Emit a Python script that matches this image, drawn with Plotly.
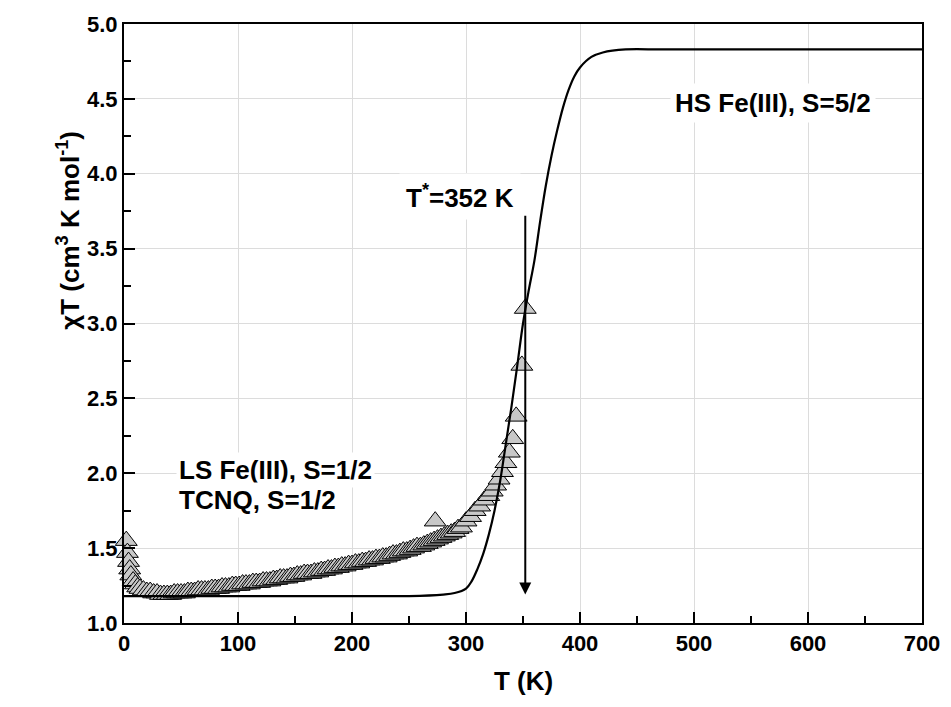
import plotly.graph_objects as go

# measured chiT data (triangles)
temp_data = [2, 3, 4, 5, 6, 8, 10, 12,
             14, 17, 20, 23, 26, 29, 32, 35, 38, 41, 44, 47, 50, 53, 56, 59,
             62, 65, 68, 71, 74, 77, 80, 83, 86, 89, 92, 95, 98, 101, 104, 107,
             110, 113, 116, 119, 122, 125, 128, 131, 134, 137, 140, 143, 146, 149,
             152, 155, 158, 161, 164, 167, 170, 173, 176, 179, 182, 185, 188, 191,
             194, 197, 200, 203, 206, 209, 212, 215, 218, 221, 224, 227, 230, 233,
             236, 239, 242, 245, 248, 251, 254, 257, 260, 263, 266, 269, 272, 273,
             275, 278, 281, 284, 287, 290, 293, 296, 300, 304, 308, 312, 316, 320,
             323, 326, 329, 332, 335, 338, 341, 344, 349, 352]
chit_data = [1.55, 1.47, 1.41, 1.36, 1.32, 1.28, 1.26, 1.24,
             1.23, 1.22, 1.21, 1.21, 1.20, 1.20, 1.19, 1.19, 1.19, 1.19, 1.20, 1.20, 1.20, 1.20, 1.21, 1.21,
             1.21, 1.22, 1.22, 1.22, 1.22, 1.23, 1.23, 1.23, 1.24, 1.24, 1.24, 1.25, 1.25, 1.25, 1.26, 1.26,
             1.26, 1.27, 1.27, 1.27, 1.28, 1.28, 1.28, 1.29, 1.29, 1.30, 1.30, 1.30, 1.31, 1.31,
             1.32, 1.32, 1.33, 1.33, 1.33, 1.34, 1.34, 1.35, 1.35, 1.36, 1.36, 1.37, 1.37, 1.38,
             1.38, 1.39, 1.39, 1.40, 1.40, 1.41, 1.41, 1.42, 1.42, 1.43, 1.43, 1.44, 1.44, 1.45,
             1.46, 1.46, 1.47, 1.48, 1.48, 1.49, 1.50, 1.51, 1.51, 1.52, 1.53, 1.54, 1.55, 1.68,
             1.56, 1.57, 1.58, 1.59, 1.60, 1.61, 1.63, 1.64, 1.68, 1.71, 1.75, 1.78, 1.82, 1.85,
             1.88, 1.92, 1.96, 2.01, 2.07, 2.14, 2.23, 2.38, 2.72, 3.10]

# fitted curve (solid line)
temp_fit = [0, 50, 100, 150, 200, 250, 280, 290, 300, 305, 310, 315, 320, 325, 330,
            335, 340, 345, 350, 355, 360, 365, 370, 375, 380, 385, 390, 395, 400,
            410, 420, 440, 470, 500, 600, 700]
chit_fit = [1.18, 1.18, 1.18, 1.18, 1.18, 1.18, 1.19, 1.20, 1.23, 1.28, 1.36, 1.46, 1.59, 1.75, 1.95,
            2.20, 2.45, 2.72, 3.00, 3.22, 3.42, 3.68, 3.92, 4.12, 4.29, 4.44, 4.56, 4.65, 4.71,
            4.78, 4.81, 4.83, 4.83, 4.83, 4.83, 4.83]

x_ticks = [0, 100, 200, 300, 400, 500, 600, 700]
y_ticks = [1.0, 1.5, 2.0, 2.5, 3.0, 3.5, 4.0, 4.5, 5.0]

FONT = "Arial, Liberation Sans, sans-serif"

fig = go.Figure()

fig.add_trace(go.Scatter(
    x=temp_data, y=chit_data, mode="markers",
    marker=dict(symbol="triangle-up", size=19, color="#c8c8c8",
                line=dict(color="black", width=1)),
    showlegend=False, cliponaxis=False))

fig.add_trace(go.Scatter(
    x=temp_fit, y=chit_fit, mode="lines", line_shape="spline",
    line=dict(color="black", width=2.2), showlegend=False))

axis_common = dict(
    showline=True, linecolor="black", linewidth=2, mirror=True,
    ticks="inside", ticklen=11, tickwidth=2, tickcolor="black",
    showgrid=True, gridcolor="#dcdcdc", gridwidth=1, zeroline=False,
    tickfont=dict(family=FONT, size=22, color="black", weight="bold"),
    ticklabeloverflow="allow",
)

fig.update_xaxes(range=[0, 700], tickvals=x_ticks, ticktext=[str(t) for t in x_ticks],
                 minor=dict(dtick=50, ticks="inside", ticklen=7, tickwidth=2,
                            tickcolor="black", showgrid=False),
                 **axis_common)
fig.update_yaxes(range=[1.0, 5.0], tickvals=y_ticks, ticktext=["%.1f" % v for v in y_ticks],
                 minor=dict(dtick=0.25, ticks="inside", ticklen=7, tickwidth=2,
                            tickcolor="black", showgrid=False),
                 **axis_common)

label_font = dict(family=FONT, size=26, color="black", weight="bold")

fig.add_annotation(x=352, y=1.19, ax=352, ay=3.73, xref="x", yref="y", axref="x", ayref="y",
                   showarrow=True, arrowhead=2, arrowsize=1.2, arrowwidth=2, arrowcolor="black",
                   text="")
fig.add_annotation(x=569, y=4.47, text="HS Fe(III), S=5/2", showarrow=False,
                   font=label_font, bgcolor="white", borderpad=4)
fig.add_annotation(x=295, y=3.85, text="T<sup>*</sup>=352 K", showarrow=False,
                   font=label_font, bgcolor="white", borderpad=6)
fig.add_annotation(x=46, y=2.02, text="LS Fe(III), S=1/2", showarrow=False, xanchor="left",
                   font=label_font, bgcolor="white", borderpad=2)
fig.add_annotation(x=46, y=1.82, text="TCNQ, S=1/2", showarrow=False, xanchor="left",
                   font=label_font, bgcolor="white", borderpad=2)

# axis titles
fig.add_annotation(xref="paper", yref="paper", x=0.5, y=-0.097, yanchor="middle",
                   text="T (K)", showarrow=False,
                   font=dict(family=FONT, size=26, color="black", weight="bold"))
fig.add_annotation(xref="paper", yref="paper", x=-0.092, y=0.655, textangle=-90,
                   text="χT (cm<sup>3</sup> K mol<sup>-1</sup>)", showarrow=False,
                   font=dict(family=FONT, size=26, color="black", weight="bold"))

fig.update_layout(
    width=951, height=707,
    margin=dict(l=124, r=11, t=24, b=84),
    plot_bgcolor="white", paper_bgcolor="white",
)

# drop the default page margin so the figure fills the window exactly
fig.write_html("out.html", config={"displayModeBar": False},
               post_script="document.body.style.margin='0';document.body.style.overflow='hidden';")
